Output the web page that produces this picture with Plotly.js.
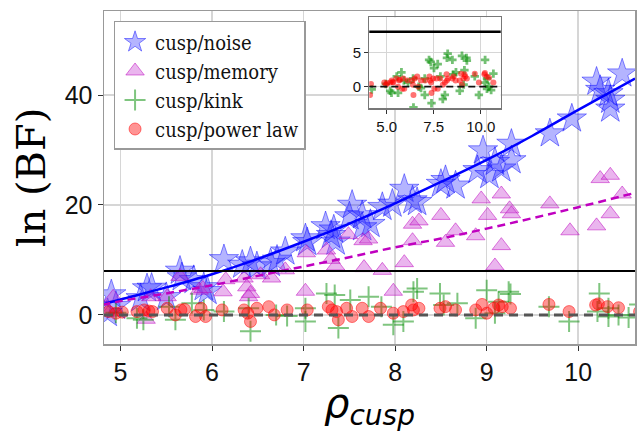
<!DOCTYPE html>
<html>
<head>
<meta charset="utf-8">
<script src="https://cdn.plot.ly/plotly-3.0.1.min.js"></script>
<style>html,body{margin:0;padding:0;background:#fff}#chart{width:637px;height:432px}</style>
</head>
<body>
<div id="chart"></div>
<script>
// ---- data ----
const noiseX = [4.86,4.90,4.95,5.22,5.29,5.34,5.50,5.65,5.67,5.80,5.91,5.95,6.13,6.33,6.42,6.49,6.64,6.71,6.80,7.02,7.04,7.24,7.30,7.35,7.33,7.50,7.53,7.64,7.73,7.64,7.86,7.97,8.10,8.19,8.24,8.50,8.55,8.66,8.96,8.90,9.03,9.09,9.16,9.27,9.27,9.69,9.93,10.20,10.24,10.33,10.35,10.35,10.48];
const noiseY = [0.3,3.7,1.6,3.0,4.8,4.9,3.2,8.0,6.8,6.3,5.0,4.3,10.1,9.1,9.7,8.8,9.4,10.0,11.5,13.9,13.2,16.1,14.5,13.3,15.5,17.9,20.0,18.1,16.5,15.9,19.6,20.2,22.9,20.8,20.5,23.8,24.5,23.5,29.9,26.3,25.4,27.8,26.6,31.1,28.1,33.0,35.7,42.4,40.9,40.3,39.1,37.5,43.9];

const memoryX = [4.92,4.88,5.28,5.33,5.51,5.65,5.86,5.90,6.12,6.15,6.35,6.38,6.42,6.40,6.53,6.65,6.80,7.02,7.03,7.25,7.30,7.35,7.49,7.65,7.71,7.66,7.86,7.98,8.10,8.19,8.26,8.19,8.50,8.55,8.66,8.88,8.94,9.01,9.09,9.16,9.16,9.25,9.27,9.69,9.91,10.20,10.24,10.35,10.35,10.48];
const memoryY = [3.2,0.5,-0.8,3.3,3.3,7.0,4.5,4.8,4.2,6.4,6.7,5.1,3.9,3.3,7.3,6.7,8.2,4.3,11.3,11.8,10.1,8.9,14.6,13.5,13.8,8.6,8.1,4.3,9.5,16.5,17.1,13.5,18.1,13.2,15.3,14.4,21.1,18.1,8.9,22.0,12.6,19.3,18.4,20.2,15.3,16.2,24.8,25.4,18.4,22.0];

const kinkX = [4.20,4.95,5.18,5.25,5.53,5.60,5.78,5.91,6.13,6.40,6.42,6.70,6.82,7.02,7.02,7.25,7.34,7.38,7.51,7.71,7.85,7.98,8.09,8.20,8.24,8.49,8.53,8.68,8.88,9.00,9.09,9.13,9.24,9.26,9.68,9.90,10.21,10.23,10.33,10.33,10.44,10.67,10.55];
const kinkY = [-0.4,0.4,-0.6,-0.9,1.5,-0.9,2.1,0.9,0.6,1.2,-3.0,0.0,-0.2,1.2,-1.2,3.9,3.6,-2.4,2.7,3.3,1.5,-1.8,-1.2,4.2,4.8,3.9,1.8,2.1,-0.6,4.5,0.3,2.4,4.2,3.8,1.5,-1.2,0.6,3.9,1.2,-0.3,0.0,1.9,-0.5];

const powerX = [4.11,4.16,4.87,4.95,5.02,5.18,5.26,5.31,5.35,5.51,5.60,5.66,5.70,5.82,5.88,5.93,6.11,6.35,6.39,6.42,6.49,6.62,6.68,6.82,7.04,7.27,7.31,7.36,7.38,7.47,7.53,7.64,7.71,7.84,7.98,8.09,8.18,8.20,8.26,8.49,8.55,8.66,8.88,8.95,9.00,9.08,9.13,9.17,9.26,9.68,9.90,10.19,10.22,10.32,10.44,10.67];
const powerY = [-1.2,0.4,0.6,0.3,0.5,0.6,0.9,0.7,0.6,1.2,0.0,0.9,1.0,-0.3,1.2,-0.3,0.9,0.9,0.3,-1.2,1.2,1.5,0.0,0.9,0.9,1.5,0.9,0.6,-0.9,1.2,-0.3,1.2,-0.3,1.2,0.3,0.6,1.8,0.9,1.2,1.2,1.5,0.9,0.9,1.9,0.3,1.2,1.8,1.5,1.2,1.9,0.6,1.8,2.0,1.5,1.3,0.6];

const fitX = [4.8,5.0,5.5,6.0,6.5,7.0,7.5,8.0,8.5,9.0,9.5,10.0,10.62];
const noiseFitY = [1.9,2.8,5.0,7.4,10.2,13.3,16.6,20.3,24.2,28.2,32.6,37.3,43.0];
const memoryFitY = [1.8,2.5,3.9,5.4,7.1,8.8,10.5,12.3,13.9,15.7,17.6,19.6,22.2];

const detectionThreshold = 8;
const zeroLevel = 0;

const seriesNames = ['cusp/noise','cusp/memory','cusp/kink','cusp/power law'];
const xTicks = [5,6,7,8,9,10];
const yTicks = [0,20,40];
const insetXTicks = [5,7.5,10];
const insetXLabels = ['5.0','7.5','10.0'];
const insetYTicks = [0,5];

// ---- traces ----
const traces = [
  {x: noiseX, y: noiseY, name: seriesNames[0], mode: 'markers', type: 'scatter', legendgroup: 'a',
   marker: {symbol: 'star', size: 22, color: 'rgba(40,40,255,0.35)', line: {color: 'rgba(0,0,255,0.45)', width: 1}}},
  {x: memoryX, y: memoryY, name: seriesNames[1], mode: 'markers', type: 'scatter', legendgroup: 'b',
   marker: {symbol: 'triangle-up', size: 16, color: 'rgba(200,60,210,0.38)', line: {color: 'rgba(190,0,190,0.5)', width: 1}}},
  {x: kinkX, y: kinkY, name: seriesNames[2], mode: 'markers', type: 'scatter', legendgroup: 'c',
   marker: {symbol: 'cross-thin-open', size: 15, color: 'rgba(0,140,0,0.5)', line: {color: 'rgba(0,140,0,0.5)', width: 2}}},
  {x: powerX, y: powerY, name: seriesNames[3], mode: 'markers', type: 'scatter', legendgroup: 'd',
   marker: {symbol: 'circle', size: 12, color: 'rgba(255,0,0,0.42)', line: {color: 'rgba(255,0,0,0.5)', width: 1}}},
  {x: fitX, y: noiseFitY, mode: 'lines', type: 'scatter', showlegend: false, hoverinfo: 'skip',
   line: {color: '#0000ff', width: 2.5, shape: 'spline'}},
  {x: fitX, y: memoryFitY, mode: 'lines', type: 'scatter', showlegend: false, hoverinfo: 'skip',
   line: {color: '#c000c0', width: 2.5, dash: '8px,5px', shape: 'spline'}},
  // inset
  {x: kinkX, y: kinkY, xaxis: 'x2', yaxis: 'y2', mode: 'markers', type: 'scatter', showlegend: false,
   marker: {symbol: 'cross', size: 7, color: 'rgba(0,140,0,0.55)', line: {width: 0}}},
  {x: powerX, y: powerY, xaxis: 'x2', yaxis: 'y2', mode: 'markers', type: 'scatter', showlegend: false,
   marker: {symbol: 'circle', size: 6, color: 'rgba(255,0,0,0.55)', line: {width: 0}}}
];

const shapes = [
  {type: 'line', xref: 'x domain', yref: 'y', x0: 0, x1: 1, y0: detectionThreshold, y1: detectionThreshold, line: {color: '#000', width: 2}, layer: 'above'},
  {type: 'line', xref: 'x domain', yref: 'y', x0: 0, x1: 1, y0: zeroLevel, y1: zeroLevel, line: {color: '#555', width: 3, dash: '9px,6px'}, layer: 'above'},
  {type: 'line', xref: 'x2 domain', yref: 'y2', x0: 0, x1: 1, y0: detectionThreshold, y1: detectionThreshold, line: {color: '#000', width: 2.5}},
  {type: 'line', xref: 'x2 domain', yref: 'y2', x0: 0, x1: 1, y0: zeroLevel, y1: zeroLevel, line: {color: '#111', width: 1.8, dash: '7px,4px'}}
];

const layout = {
  width: 637, height: 432,
  margin: {l: 104, r: 2, t: 11, b: 88},
  paper_bgcolor: '#fff', plot_bgcolor: '#fff',
  showlegend: true,
  legend: {x: 0.018, y: 0.97, xanchor: 'left', yanchor: 'top', bgcolor: '#fff', bordercolor: '#999', borderwidth: 1.5,
           font: {family: '"DejaVu Serif Condensed", "DejaVu Serif", serif', size: 20, color: '#111'}, traceorder: 'grouped', tracegroupgap: 0},
  xaxis: {range: [4.82, 10.62], tickvals: xTicks, ticks: 'outside', ticklen: 5, tickcolor: '#333',
          showgrid: true, gridcolor: '#d6d6d6', gridwidth: 1.5, zeroline: false,
          showline: true, mirror: true, linecolor: '#999', linewidth: 1.5,
          tickfont: {family: 'Liberation Sans', size: 25, color: '#111'},
          title: {text: '<i>ρ</i><sub><i>cusp</i></sub>', font: {family: 'DejaVu Sans', size: 40, color: '#000'}, standoff: 8}},
  yaxis: {range: [-5.3, 55.3], tickvals: yTicks, ticks: 'outside', ticklen: 5, tickcolor: '#333',
          showgrid: true, gridcolor: '#d6d6d6', gridwidth: 1.5, zeroline: false,
          showline: true, mirror: true, linecolor: '#999', linewidth: 1.5,
          tickfont: {family: 'Liberation Sans', size: 25, color: '#111'},
          title: {text: 'ln (BF)', font: {family: 'DejaVu Serif', size: 40, color: '#000'}, standoff: 6}},
  xaxis2: {domain: [0.4996, 0.7471], anchor: 'y2', range: [4.07, 11.06], tickvals: insetXTicks, ticktext: insetXLabels,
           ticks: 'outside', ticklen: 4, tickcolor: '#333', showgrid: true, gridcolor: '#d6d6d6', gridwidth: 1.2, zeroline: false,
           showline: true, mirror: true, linecolor: '#777', linewidth: 1.2,
           tickfont: {family: 'Liberation Sans', size: 15, color: '#111'}},
  yaxis2: {domain: [0.7078, 0.9811], anchor: 'x2', range: [-3.14, 10.1], tickvals: insetYTicks,
           ticks: 'outside', ticklen: 4, tickcolor: '#333', showgrid: true, gridcolor: '#d6d6d6', gridwidth: 1.2, zeroline: false,
           showline: true, mirror: true, linecolor: '#777', linewidth: 1.2,
           tickfont: {family: 'Liberation Sans', size: 15, color: '#111'}},
  shapes: shapes
};

Plotly.newPlot('chart', traces, layout, {staticPlot: true, displayModeBar: false});
</script>
</body>
</html>
